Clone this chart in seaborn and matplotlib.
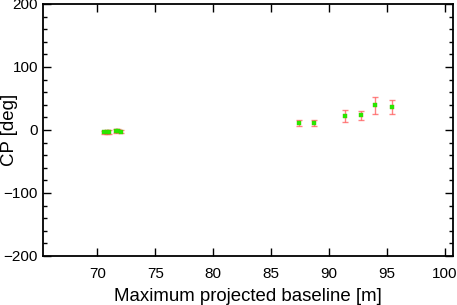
import numpy as np
import pandas as pd
import seaborn as sns
import matplotlib.pyplot as plt
from matplotlib.ticker import MultipleLocator

# closure phase vs maximum projected baseline
baseline = [70.6, 70.8, 71.0, 71.6, 71.8, 72.0, 87.4, 88.7, 91.4, 92.8, 94.0, 95.4]
cp = [-4.0, -3.0, -3.5, -2.0, -1.0, -2.5, 10.5, 10.5, 22.0, 23.0, 39.0, 36.5]
cp_err = [3.0, 3.0, 3.0, 3.0, 3.0, 3.0, 5.0, 5.0, 10.0, 7.0, 13.0, 11.0]

df = pd.DataFrame({'baseline': baseline, 'cp': cp, 'err': cp_err})

sns.set_style("ticks")
plt.rcParams['font.family'] = ['Liberation Sans', 'DejaVu Sans']

fig = plt.figure(figsize=(4.57, 3.05), dpi=100)
ax = fig.add_axes([0.094, 0.161, 0.897, 0.826])

ax.errorbar(df['baseline'], df['cp'], yerr=df['err'], fmt='none',
            ecolor='#ff5a5a', alpha=0.75, elinewidth=1.0, capsize=2.5, capthick=1.0)
sns.scatterplot(data=df, x='baseline', y='cp', ax=ax, marker='s', s=7,
                color='#22ee00', edgecolor='#55bb00', linewidth=0.3, zorder=3)

ax.set_xlim(65.3, 100.7)
ax.set_ylim(-200, 200)
ax.xaxis.set_major_locator(MultipleLocator(5))
ax.yaxis.set_major_locator(MultipleLocator(100))
ax.yaxis.set_minor_locator(MultipleLocator(20))
ax.tick_params(which='both', direction='in', top=True, right=True, labelsize=11,
               width=1, color='black', labelcolor='black')
ax.tick_params(which='major', length=6)
ax.tick_params(which='minor', length=3)
ax.tick_params(axis='x', which='major', pad=8)
for s in ax.spines.values():
    s.set_linewidth(1.3)
    s.set_color('black')

ax.set_xlabel("Maximum projected baseline [m]", fontsize=13.4, labelpad=5, color='black')
ax.set_ylabel("CP [deg]", fontsize=13.4, color='black')
ax.yaxis.set_label_coords(-0.062, 0.5)

fig.savefig("out.png", dpi=100)
